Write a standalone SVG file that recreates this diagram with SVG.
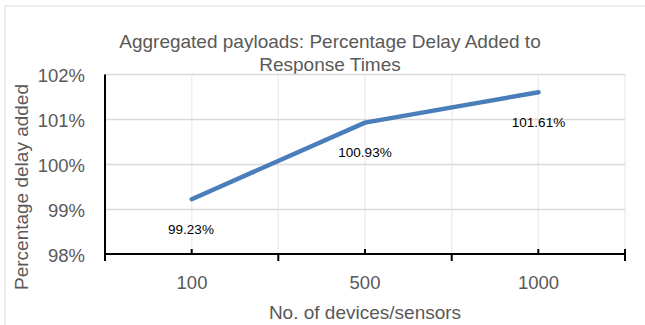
<svg xmlns="http://www.w3.org/2000/svg" width="645" height="325" viewBox="0 0 645 325">
<style>
.t{font-family:"Liberation Sans",Arial,sans-serif;fill:#595959}
.ax{font-size:18.5px}
.ttl{font-size:19px;text-anchor:middle}
.dl{font-family:"Liberation Sans",Arial,sans-serif;font-size:13.5px;fill:#000;text-anchor:middle}
.hg{stroke:#d9d9d9;stroke-width:1.5}
.vg{stroke:#eeeeee;stroke-width:1.5}
.axl{stroke:#000;stroke-width:2}
</style>
<rect width="645" height="325" fill="#fff"/>
<g id="frame" fill="none" stroke="#d9d9d9" stroke-width="1">
<line x1="5" y1="6" x2="645" y2="6"/>
<line x1="5" y1="6" x2="5" y2="325"/>
</g>
<g id="title">
<text class="t ttl" x="330" y="48">Aggregated payloads: Percentage Delay Added to</text>
<text class="t ttl" x="330" y="71">Response Times</text>
</g>
<g id="grid">
<line class="vg" x1="191.7" y1="74.5" x2="191.7" y2="254"/>
<line class="vg" x1="278.3" y1="74.5" x2="278.3" y2="254"/>
<line class="vg" x1="365" y1="74.5" x2="365" y2="254"/>
<line class="vg" x1="451.7" y1="74.5" x2="451.7" y2="254"/>
<line class="vg" x1="538.3" y1="74.5" x2="538.3" y2="254"/>
<line class="vg" x1="625" y1="74.5" x2="625" y2="254"/>
<line class="hg" x1="105" y1="74.5" x2="625" y2="74.5"/>
<line class="hg" x1="105" y1="119.5" x2="625" y2="119.5"/>
<line class="hg" x1="105" y1="164.5" x2="625" y2="164.5"/>
<line class="hg" x1="105" y1="209.5" x2="625" y2="209.5"/>
</g>
<g id="axes">
<line class="axl" x1="105" y1="74.5" x2="105" y2="261"/>
<line class="axl" x1="104" y1="254" x2="625" y2="254"/>
<line class="axl" x1="191.7" y1="249" x2="191.7" y2="254"/>
<line class="axl" x1="365" y1="249" x2="365" y2="254"/>
<line class="axl" x1="538.3" y1="249" x2="538.3" y2="254"/>
<line class="axl" x1="278.3" y1="254" x2="278.3" y2="261"/>
<line class="axl" x1="451.7" y1="254" x2="451.7" y2="261"/>
<line class="axl" x1="625" y1="249" x2="625" y2="261"/>
</g>
<g id="y-labels" class="t ax" text-anchor="end">
<text x="85" y="81.5">102%</text>
<text x="85" y="126.5">101%</text>
<text x="85" y="171.5">100%</text>
<text x="85" y="216.5">99%</text>
<text x="85" y="261.5">98%</text>
</g>
<g id="x-labels" class="t ax" text-anchor="middle">
<text x="192" y="288.5">100</text>
<text x="365" y="288.5">500</text>
<text x="538.5" y="288.5">1000</text>
</g>
<g id="axis-titles">
<text class="t ttl" x="365" y="319">No. of devices/sensors</text>
<text class="t ttl" transform="translate(28,187) rotate(-90)">Percentage delay added</text>
</g>
<g id="series">
<polyline points="191.7,199.2 365,122.6 538.5,92.2" fill="none" stroke="#4a7ebb" stroke-width="4.5" stroke-linecap="round" stroke-linejoin="round"/>
</g>
<g id="data-labels">
<text class="dl" x="191" y="234">99.23%</text>
<text class="dl" x="365" y="157.3">100.93%</text>
<text class="dl" x="538.5" y="126.7">101.61%</text>
</g>
</svg>
